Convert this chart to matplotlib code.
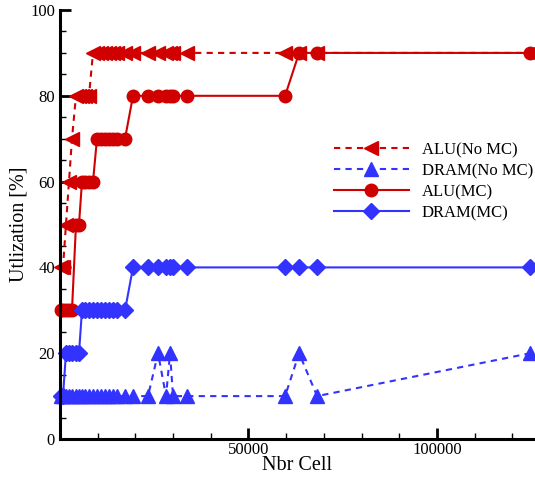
import matplotlib
matplotlib.use("Agg")
import matplotlib.pyplot as plt
from matplotlib.ticker import MultipleLocator

plt.rcParams['font.family'] = ['Liberation Serif', 'DejaVu Serif']

# number of cells (x) shared by all four runs
nbr_cell = [265, 796, 1592, 2389, 3185, 4246, 5042, 5839, 6635, 7696,
            8758, 9820, 10881, 11943, 13004, 14066, 15127, 17251, 19374, 23355,
            26008, 28132, 29193, 29989, 33705, 59713, 63429, 68206, 124735]

alu_no_mc = [40, 40, 50, 60, 70, 80, 80, 80, 80, 80,
             90, 90, 90, 90, 90, 90, 90, 90, 90, 90,
             90, 90, 90, 90, 90, 90, 90, 90, 90]
dram_no_mc = [10, 10, 10, 10, 10, 10, 10, 10, 10, 10,
              10, 10, 10, 10, 10, 10, 10, 10, 10, 10,
              20, 10, 20, 10, 10, 10, 20, 10, 20]
alu_mc = [30, 30, 30, 30, 30, 50, 50, 60, 60, 60,
          60, 70, 70, 70, 70, 70, 70, 70, 80, 80,
          80, 80, 80, 80, 80, 80, 90, 90, 90]
dram_mc = [10, 10, 20, 20, 20, 20, 20, 30, 30, 30,
           30, 30, 30, 30, 30, 30, 30, 30, 40, 40,
           40, 40, 40, 40, 40, 40, 40, 40, 40]

red = '#d00000'
blue = '#3333ff'
dash = (0, (3, 2.5))

fig = plt.figure(figsize=(5.35, 4.79), dpi=100)
ax = fig.add_axes([0.1121, 0.0835, 0.8879, 0.8956])

ax.plot(nbr_cell, alu_no_mc, color=red, linestyle=dash, lw=1.5,
        marker='<', markersize=10, label='ALU(No MC)', clip_on=False)
ax.plot(nbr_cell, dram_no_mc, color=blue, linestyle=dash, lw=1.5,
        marker='^', markersize=10, label='DRAM(No MC)', clip_on=False)
ax.plot(nbr_cell, alu_mc, color=red, linestyle='-', lw=1.5,
        marker='o', markersize=9, label='ALU(MC)', clip_on=False)
ax.plot(nbr_cell, dram_mc, color=blue, linestyle='-', lw=1.5,
        marker='D', markersize=8, label='DRAM(MC)', clip_on=False)

ax.set_xlim(0, 126000)
ax.set_ylim(0, 100)
ax.spines['top'].set_visible(False)
ax.spines['right'].set_visible(False)
ax.spines['left'].set_linewidth(2.2)
ax.spines['bottom'].set_linewidth(2.2)

ax.set_xticks([50000, 100000])
ax.xaxis.set_minor_locator(MultipleLocator(10000))
ax.yaxis.set_major_locator(MultipleLocator(20))
ax.yaxis.set_minor_locator(MultipleLocator(5))
ax.tick_params(which='major', direction='in', length=8, width=2, labelsize=12)
ax.tick_params(which='minor', direction='in', length=4, width=1)
ax.tick_params(axis='x', pad=2)

ax.set_xlabel('Nbr Cell', fontsize=14.5, labelpad=-1.5)
ax.set_ylabel('Utlization [%]', fontsize=14.5, labelpad=1)

ax.legend(loc='upper left', bbox_to_anchor=(0.562, 0.708), frameon=False,
          fontsize=12, handlelength=4.5, handletextpad=0.8,
          labelspacing=0.3, borderaxespad=0)

fig.savefig('out.png', dpi=100)
